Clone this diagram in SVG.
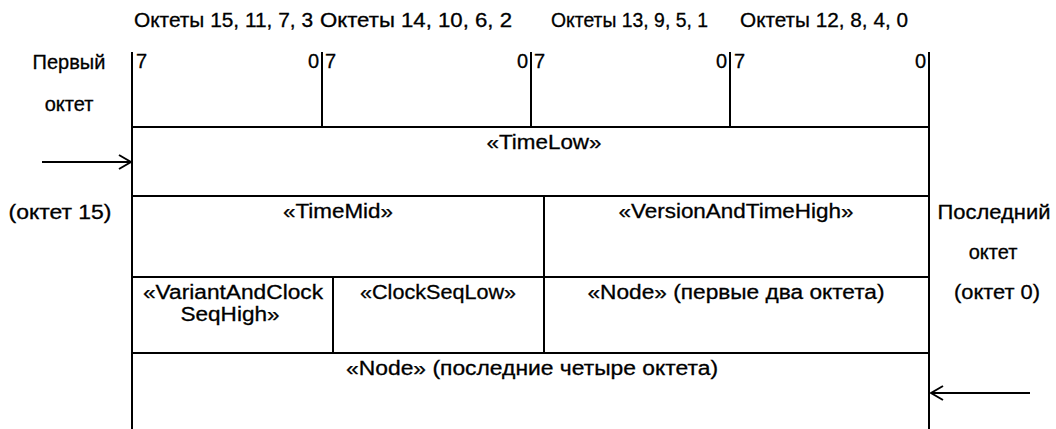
<svg xmlns="http://www.w3.org/2000/svg" width="1056" height="429" viewBox="0 0 1056 429">
  <defs>
    <marker id="arrow" viewBox="0 0 14 16" refX="13" refY="8" markerWidth="14" markerHeight="16" markerUnits="userSpaceOnUse" orient="auto">
      <path d="M1,1 L13,8 L1,15" fill="none" stroke="#000" stroke-width="2"/>
    </marker>
  </defs>
  <style>
    text { font-family: "Liberation Sans", Arial, sans-serif; font-size: 20px; fill: #000; stroke: #000; stroke-width: 0.3px; }
    .c { text-anchor: middle; }
    .r { text-anchor: end; }
    .ln { stroke: #000; stroke-width: 2; fill: none; }
  </style>
  <rect width="1056" height="429" fill="#fff"/>

  <g id="header">
    <text x="134" y="27" textLength="179" lengthAdjust="spacingAndGlyphs">Октеты 15, 11, 7, 3</text>
    <text x="320" y="27" textLength="192" lengthAdjust="spacingAndGlyphs">Октеты 14, 10, 6, 2</text>
    <text x="551" y="27" textLength="157" lengthAdjust="spacingAndGlyphs">Октеты 13, 9, 5, 1</text>
    <text x="740" y="27" textLength="168" lengthAdjust="spacingAndGlyphs">Октеты 12, 8, 4, 0</text>
    <text x="136" y="68">7</text>
    <text x="319" y="68" class="r">0</text>
    <text x="325" y="68">7</text>
    <text x="528" y="68" class="r">0</text>
    <text x="534" y="68">7</text>
    <text x="727" y="68" class="r">0</text>
    <text x="734" y="68">7</text>
    <text x="926" y="68" class="r">0</text>
  </g>

  <g id="frame">
    <line class="ln" x1="132" y1="52" x2="132" y2="429"/>
    <line class="ln" x1="929" y1="52" x2="929" y2="429"/>
    <line class="ln" x1="322" y1="52" x2="322" y2="127"/>
    <line class="ln" x1="531" y1="52" x2="531" y2="127"/>
    <line class="ln" x1="730" y1="52" x2="730" y2="127"/>
    <line class="ln" x1="132" y1="127" x2="929" y2="127"/>
  </g>

  <g id="first-octet-label">
    <text x="69" y="69" class="c">Первый</text>
    <text x="69" y="111" class="c">октет</text>
    <text x="60" y="219" class="c" textLength="103" lengthAdjust="spacingAndGlyphs">(октет 15)</text>
  </g>

  <g id="last-octet-label">
    <text x="994" y="219" class="c" textLength="113" lengthAdjust="spacingAndGlyphs">Последний</text>
    <text x="993" y="259" class="c">октет</text>
    <text x="997" y="299" class="c" textLength="86" lengthAdjust="spacingAndGlyphs">(октет 0)</text>
  </g>

  <g id="time-low">
    <line class="ln" x1="132" y1="196" x2="929" y2="196"/>
    <text x="544" y="149" class="c" textLength="115" lengthAdjust="spacingAndGlyphs">«TimeLow»</text>
  </g>

  <g id="time-mid">
    <line class="ln" x1="132" y1="277" x2="544" y2="277"/>
    <text x="338" y="218" class="c" textLength="110" lengthAdjust="spacingAndGlyphs">«TimeMid»</text>
  </g>

  <g id="version-and-time-high">
    <line class="ln" x1="544" y1="196" x2="544" y2="353"/>
    <line class="ln" x1="544" y1="277" x2="929" y2="277"/>
    <text x="736" y="218" class="c" textLength="235" lengthAdjust="spacingAndGlyphs">«VersionAndTimeHigh»</text>
  </g>

  <g id="variant-and-clock-seq-high">
    <line class="ln" x1="333" y1="277" x2="333" y2="353"/>
    <text x="233" y="299" class="c" textLength="180" lengthAdjust="spacingAndGlyphs">«VariantAndClock</text>
    <text x="230" y="321" class="c" textLength="99" lengthAdjust="spacingAndGlyphs">SeqHigh»</text>
  </g>

  <g id="clock-seq-low">
    <text x="438" y="299" class="c" textLength="156" lengthAdjust="spacingAndGlyphs">«ClockSeqLow»</text>
  </g>

  <g id="node-first-two">
    <line class="ln" x1="132" y1="353" x2="929" y2="353"/>
    <text x="736" y="299" class="c" textLength="297" lengthAdjust="spacingAndGlyphs">«Node» (первые два октета)</text>
  </g>

  <g id="node-last-four">
    <text x="532" y="375" class="c" textLength="372" lengthAdjust="spacingAndGlyphs">«Node» (последние четыре октета)</text>
  </g>

  <g id="connectors">
    <line class="ln" x1="42" y1="162" x2="131" y2="162" marker-end="url(#arrow)"/>
    <line class="ln" x1="1030" y1="393" x2="931" y2="393" marker-end="url(#arrow)"/>
  </g>
</svg>
